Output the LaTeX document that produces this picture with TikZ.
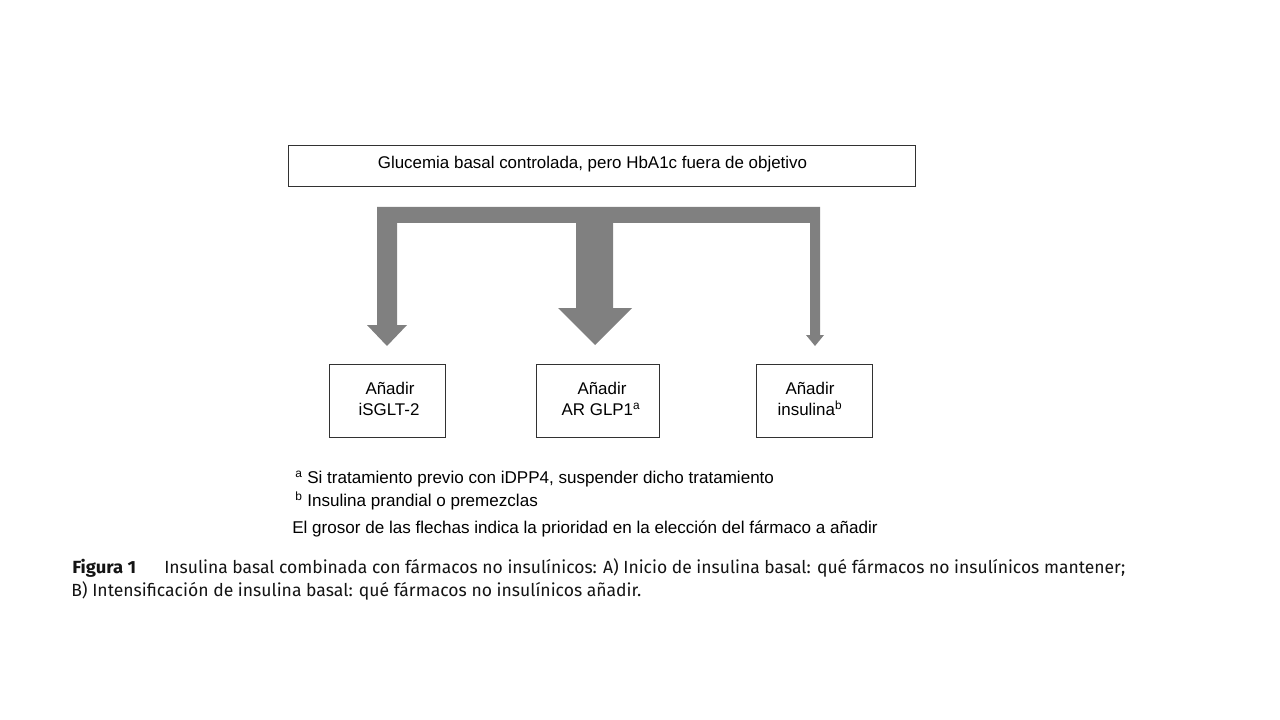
\documentclass[tikz,border=0pt]{standalone}
\usepackage{fontspec}
\setmainfont{Liberation Sans}
\newfontfamily\capfont{Fira Sans}
\newdimen\pxu \pxu=0.75pt
\definecolor{arrowgray}{RGB}{128,128,128}
\definecolor{boxline}{RGB}{50,50,50}
\definecolor{captext}{RGB}{20,20,20}
\begin{document}
\begin{tikzpicture}[x=0.75pt,y=-0.75pt,
  box/.style={draw=boxline, line width=0.7pt, inner sep=0pt},
  lbl/.style={font=\fontsize{12.7}{15}\selectfont, inner sep=0pt, text=black},
  note/.style={font=\fontsize{12.8}{15}\selectfont, inner sep=0pt, text=black, anchor=base west},
  captxt/.style={font=\capfont\fontsize{13.2}{15}\selectfont, inner sep=0pt, anchor=base west, text=captext}]
\useasboundingbox (0,0) rectangle (1280,720);
\fill[white] (0,0) rectangle (1280,720);
% boxes
\node[box, minimum width=470.25pt, minimum height=30.75pt] (top) at (601.5,165.5) {};
\node[box, minimum width=87pt, minimum height=54.75pt] (sglt) at (387,400.5) {};
\node[box, minimum width=92.25pt, minimum height=54.75pt] (glp) at (597.5,400.5) {};
\node[box, minimum width=87pt, minimum height=54.75pt] (ins) at (814,400.5) {};
% texts
\node[lbl, anchor=base] (toptext) at (592.5,169) {Glucemia basal controlada, pero HbA1c fuera de objetivo};
\node[lbl, anchor=base] at (390,394) {Añadir};
\node[lbl, anchor=base] at (389,415) {iSGLT-2};
\node[lbl, anchor=base] at (602,394) {Añadir};
\node[lbl, anchor=base] at (601,415) {AR GLP1\textsuperscript{a}};
\node[lbl, anchor=base] at (810,394) {Añadir};
\node[lbl, anchor=base] at (810,415) {insulina\textsuperscript{b}};
% branching arrows (one filled shape)
\fill[arrowgray] (377,207) -- (820,207) -- (820,335) -- (824,335) -- (815,346) -- (806,335) -- (810,335)
  -- (810,223) -- (613,223) -- (613,308) -- (632,308) -- (595,345) -- (558,308) -- (576,308)
  -- (576,223) -- (397,223) -- (397,325) -- (407,325) -- (387,346) -- (367,325) -- (377,325) -- cycle;
% footnotes
\node[note] (fa) at (295,483) {\textsuperscript{a} Si tratamiento previo con iDPP4, suspender dicho tratamiento};
\node[note] (fb) at (295,506) {\textsuperscript{b} Insulina prandial o premezclas};
\node[note] (fc) at (292,533) {El grosor de las flechas indica la prioridad en la elección del fármaco a añadir};
% caption
\node[captxt] (c0) at (72,573) {\resizebox{64\pxu}{\height}{\bfseries Figura 1}};
\node[captxt] (c1) at (164,573) {\resizebox{961\pxu}{\height}{Insulina basal combinada con fármacos no insulínicos: A) Inicio de insulina basal: qué fármacos no insulínicos mantener;}};
\node[captxt] (c2) at (71,596) {\resizebox{570\pxu}{\height}{B) Intensificación de insulina basal: qué fármacos no insulínicos añadir.}};
\end{tikzpicture}
\end{document}
